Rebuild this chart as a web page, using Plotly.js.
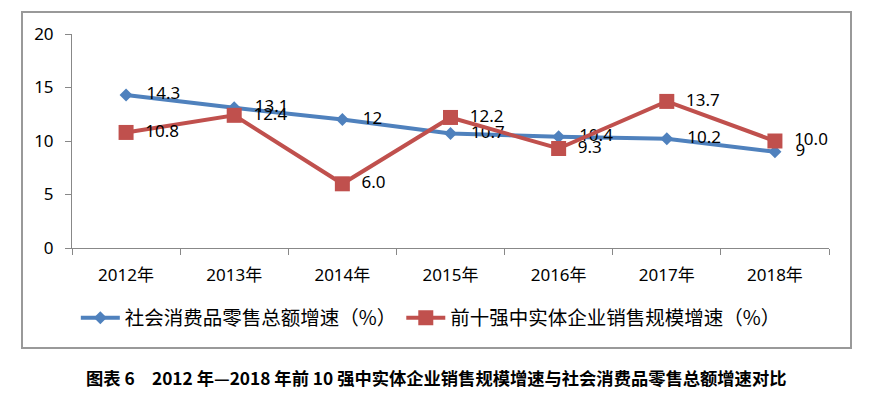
<!DOCTYPE html>
<html><head><meta charset="utf-8">
<script src="https://cdn.plot.ly/plotly-3.0.1.min.js"></script>
<style>html,body{margin:0;padding:0;background:#fff;}#chart{width:870px;height:394px;}</style>
</head><body><div id="chart"></div>
<script>
const years = ['2012年','2013年','2014年','2015年','2016年','2017年','2018年'];
const retailGrowth = [14.3, 13.1, 12, 10.7, 10.4, 10.2, 9];
const retailLabels = ['14.3','13.1','12','10.7','10.4','10.2','9'];
const top10Growth = [10.8, 12.4, 6.0, 12.2, 9.3, 13.7, 10.0];
const top10Labels = ['10.8','12.4','6.0','12.2','9.3','13.7','10.0'];
const seriesNames = ['社会消费品零售总额增速（%）','前十强中实体企业销售规模增速（%）'];
const caption = '图表 6　2012 年—2018 年前 10 强中实体企业销售规模增速与社会消费品零售总额增速对比';

const numFont = '"Noto Sans", "Noto Sans CJK SC", sans-serif';
const cjkFont = '"Noto Sans CJK SC", "Noto Sans", sans-serif';

const traces = [
  {
    x: years, y: retailGrowth, name: seriesNames[0], type: 'scatter', mode: 'lines+markers+text',
    line: {color: '#4F81BD', width: 4},
    marker: {symbol: 'diamond', size: 10, color: '#4F81BD'},
    text: retailLabels.map(t => '\u00a0\u00a0\u00a0' + t), textposition: 'middle right',
    textfont: {family: numFont, size: 17, color: '#000'}, cliponaxis: false
  },
  {
    x: years, y: top10Growth, name: seriesNames[1], type: 'scatter', mode: 'lines+markers+text',
    line: {color: '#C0504D', width: 4},
    marker: {symbol: 'square', size: 15, color: '#C0504D'},
    text: top10Labels.map(t => '\u00a0\u00a0' + t), textposition: 'middle right',
    textfont: {family: numFont, size: 17, color: '#000'}, cliponaxis: false
  }
];

const layout = {
  width: 870, height: 394,
  margin: {l: 72, r: 41, t: 34, b: 146},
  paper_bgcolor: '#fff', plot_bgcolor: '#fff',
  showlegend: true,
  font: {family: numFont, size: 17, color: '#000'},
  xaxis: {
    type: 'category', range: [-0.5, 6.5], tickson: 'boundaries',
    ticks: 'outside', ticklen: 6, tickcolor: '#888', tickwidth: 1,
    showline: true, linecolor: '#888', linewidth: 1, showgrid: false, zeroline: false,
    tickfont: {family: numFont, size: 17, color: '#000'}, ticklabelstandoff: 12
  },
  yaxis: {
    range: [0, 20], dtick: 5, tick0: 0,
    ticks: 'outside', ticklen: 6, tickcolor: '#888', tickwidth: 1,
    showline: true, linecolor: '#888', linewidth: 1, showgrid: false, zeroline: false,
    tickfont: {family: numFont, size: 17, color: '#000'}, ticklabelstandoff: 8
  },
  legend: {
    orientation: 'h', x: 0.474, xanchor: 'center', y: -0.327, yanchor: 'middle',
    font: {family: cjkFont, size: 19.5, color: '#000'}, itemwidth: 39, tracegroupgap: 0
  },
  shapes: [{
    type: 'rect', xref: 'paper', yref: 'paper',
    x0: (22 - 72) / 757, x1: (851 - 72) / 757, y0: (248 - 348) / 214, y1: (248 - 12) / 214,
    line: {color: '#999', width: 2}, fillcolor: 'rgba(0,0,0,0)', layer: 'below'
  }],
  annotations: [{
    text: caption, xref: 'paper', yref: 'paper', x: (436 - 72) / 757, y: (248 - 377) / 214,
    xanchor: 'center', yanchor: 'middle', showarrow: false,
    font: {family: cjkFont, size: 17.3, color: '#000', weight: 'bold'}
  }]
};

Plotly.newPlot('chart', traces, layout, {displayModeBar: false, staticPlot: true});
</script></body></html>
